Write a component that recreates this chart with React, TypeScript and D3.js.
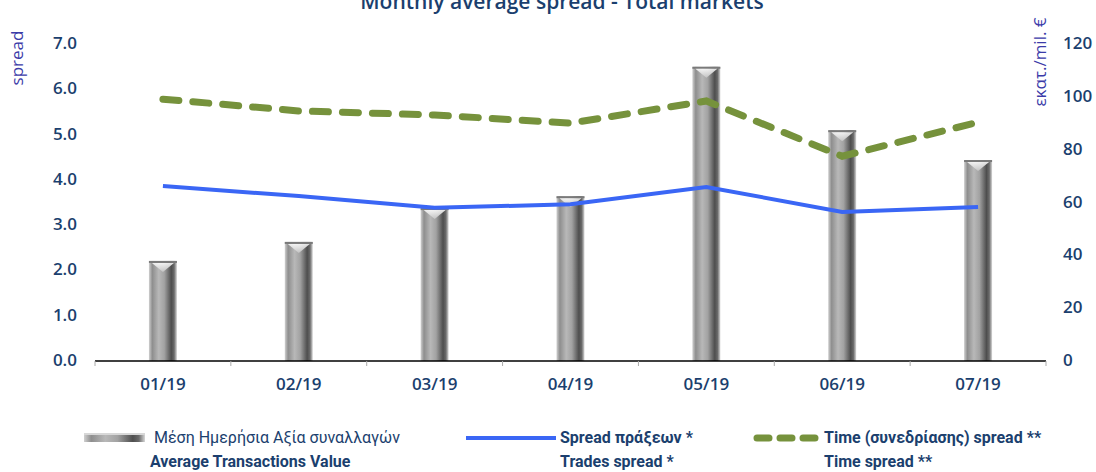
import React from 'react';
import * as d3 from 'd3';

const months = ['01/19', '02/19', '03/19', '04/19', '05/19', '06/19', '07/19'];
const avgValue = [37.5, 44.7, 57.5, 62, 111, 87, 75.7];
const tradesSpread = [3.84, 3.62, 3.36, 3.44, 3.82, 3.27, 3.38];
const timeSpread = [5.76, 5.5, 5.41, 5.23, 5.72, 4.5, 5.25];
const leftTicks = [0, 1, 2, 3, 4, 5, 6, 7];
const rightTicks = [0, 20, 40, 60, 80, 100, 120];

const W = 1096, H = 472;
const margin = { top: 43, right: 50, bottom: 111, left: 95 };
const textColor = '#1b3f6e';
const titleColor = '#3b3ba8';
const tickFont = '"Open Sans", "DejaVu Sans", sans-serif';
const legendFont = '"Liberation Sans Narrow", "Roboto", sans-serif';

export default function App() {
  const x = d3.scaleBand().domain(months).range([margin.left, W - margin.right]);
  const yL = d3.scaleLinear().domain([0, 7]).range([H - margin.bottom - 1, margin.top]);
  const yR = d3.scaleLinear().domain([0, 120]).range([H - margin.bottom - 1, margin.top]);
  const barW = 28;
  const cx = (m: string) => (x(m) as number) + x.bandwidth() / 2;

  const line = d3.line<number>().x((_, i) => cx(months[i])).y(d => yL(d));
  const axisY = H - margin.bottom;

  return (
    <svg width={W} height={H} style={{ position: 'absolute', left: 0, top: 0, background: '#fff' }}>
      <defs>
        <linearGradient id="barGrad" x1="0" x2="1" y1="0" y2="0">
          <stop offset="0" stopColor="#d0d0d0" />
          <stop offset="0.12" stopColor="#8e8e8e" />
          <stop offset="0.35" stopColor="#b8b8b8" />
          <stop offset="0.55" stopColor="#a2a2a2" />
          <stop offset="0.8" stopColor="#4e4e4e" />
          <stop offset="0.9" stopColor="#6a6a6a" />
          <stop offset="1" stopColor="#d8d8d8" />
        </linearGradient>
        <linearGradient id="capGrad" x1="0" x2="0" y1="0" y2="1">
          <stop offset="0" stopColor="#ffffff" />
          <stop offset="1" stopColor="#c8c8c8" />
        </linearGradient>
      </defs>

      <text x={W / 2 + 14} y={9} textAnchor="middle" fontFamily={tickFont} fontWeight="600" fontSize={21} fill={textColor}>
        Monthly average spread - Total markets
      </text>

      {/* bars */}
      {avgValue.map((v, i) => {
        const bx = cx(months[i]) - barW / 2;
        const by = yR(v);
        return (
          <g key={months[i]}>
            <rect x={bx} y={by} width={barW} height={axisY - by} fill="url(#barGrad)" />
            <rect x={bx} y={by} width={barW} height={2} fill="#7a7a7a" />
            <path d={`M${bx + 3},${by + 2} L${bx + barW - 3},${by + 2} L${bx + barW / 2},${by + 11} Z`} fill="url(#capGrad)" opacity={0.85} />
          </g>
        );
      })}

      {/* x axis */}
      <line x1={margin.left} x2={W - margin.right} y1={axisY} y2={axisY} stroke="#000" strokeWidth={1.5} />
      {d3.range(months.length + 1).map(i => {
        const tx = margin.left + i * x.bandwidth();
        return <line key={i} x1={tx} x2={tx} y1={axisY} y2={axisY + 5} stroke="#aaa" strokeWidth={1} />;
      })}
      {months.map(m => (
        <text key={m} x={cx(m)} y={axisY + 29} textAnchor="middle" fontFamily={tickFont} fontWeight="600" fontSize={17} fill={textColor}>
          {m}
        </text>
      ))}

      {/* left axis */}
      {leftTicks.map(t => (
        <text key={t} x={77} y={yL(t) + 6} textAnchor="end" fontFamily={tickFont} fontWeight="600" fontSize={17} fill={textColor}>
          {t.toFixed(1)}
        </text>
      ))}
      <text transform="translate(23,58) rotate(-90)" textAnchor="middle" fontFamily={tickFont} fontSize={17} fill={titleColor}>
        spread
      </text>

      {/* right axis */}
      {rightTicks.map(t => (
        <text key={t} x={1063} y={yR(t) + 6} textAnchor="start" fontFamily={tickFont} fontWeight="600" fontSize={17} fill={textColor}>
          {t}
        </text>
      ))}
      <text transform="translate(1046,62) rotate(-90)" textAnchor="middle" fontFamily={tickFont} fontSize={17} fill={titleColor}>
        εκατ./mil. €
      </text>

      {/* lines */}
      <path d={line(tradesSpread) || ''} fill="none" stroke="#3a66f5" strokeWidth={4} />
      <path d={line(timeSpread) || ''} fill="none" stroke="#76923c" strokeWidth={7} strokeDasharray="16 14" strokeLinecap="round" />

      {/* legend */}
      <rect x={84} y={433} width={61} height={9} fill="url(#barGrad)" />
      <rect x={84} y={433} width={61} height={2} fill="#d8d8d8" />
      <text x={154} y={443} fontFamily={legendFont} fontSize={16} fill={textColor}>Μέση Ημερήσια Αξία συναλλαγών</text>
      <text x={150} y={467} fontFamily={legendFont} fontWeight="bold" fontSize={16} fill={textColor}>Average Transactions Value</text>

      <line x1={466} x2={556} y1={438} y2={438} stroke="#3a66f5" strokeWidth={4} />
      <text x={560} y={443} fontFamily={legendFont} fontWeight="bold" fontSize={16} fill={textColor}>Spread πράξεων *</text>
      <text x={560} y={467} fontFamily={legendFont} fontWeight="bold" fontSize={16} fill={textColor}>Trades spread *</text>

      <line x1={757} x2={819} y1={438} y2={438} stroke="#76923c" strokeWidth={7} strokeDasharray="12 11" strokeLinecap="round" />
      <text x={824} y={443} fontFamily={legendFont} fontWeight="bold" fontSize={16} fill={textColor}>Time  (συνεδρίασης) spread **</text>
      <text x={824} y={467} fontFamily={legendFont} fontWeight="bold" fontSize={16} fill={textColor}>Time spread **</text>
    </svg>
  );
}
